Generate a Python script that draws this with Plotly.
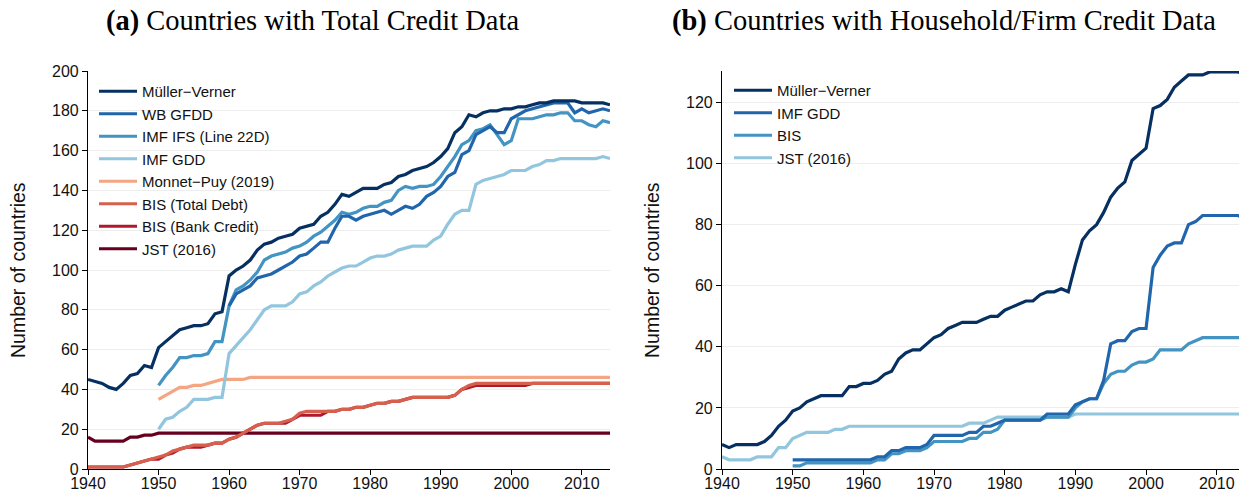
import plotly.graph_objects as go

# ---------------- Data ----------------
years_all = list(range(1940, 2015))
years_1950 = list(range(1950, 2015))
years_1960 = list(range(1960, 2015))

# Panel (a): Countries with Total Credit Data
a_muller_verner = [
    45, 44, 43, 41, 40, 43, 47, 48, 52, 51,
    61, 64, 67, 70, 71, 72, 72, 73, 78, 79,
    97, 100, 102, 105, 110, 113, 114, 116, 117, 118,
    121, 122, 123, 127, 129, 133, 138, 137, 139, 141,
    141, 141, 143, 144, 147, 148, 150, 151, 152, 154,
    157, 161, 169, 172, 178, 177, 179, 180, 180, 181,
    181, 182, 182, 183, 184, 184, 185, 185, 185, 185,
    184, 184, 184, 184, 183]
a_wb_gfdd = [  # from 1960
    82, 88, 90, 92, 96, 97, 98, 100, 102, 104,
    107, 108, 111, 114, 114, 121, 127, 127, 125, 127,
    128, 129, 130, 128, 130, 132, 131, 133, 137, 139,
    142, 147, 149, 158, 160, 168, 170, 172, 169, 169,
    176, 178, 180, 181, 182, 183, 184, 184, 184, 179,
    181, 179, 180, 181, 180]
a_imf_ifs = [  # from 1950
    42, 47, 51, 56, 56, 57, 57, 58, 64, 64,
    82, 90, 92, 95, 99, 105, 107, 108, 109, 111,
    112, 114, 117, 119, 122, 125, 129, 128, 129, 131,
    132, 132, 134, 135, 140, 142, 141, 142, 142, 143,
    147, 152, 157, 163, 165, 170, 171, 173, 168, 163,
    165, 176, 176, 176, 177, 178, 178, 179, 179, 175,
    175, 173, 172, 175, 174]
a_imf_gdd = [  # from 1950
    20, 25, 26, 29, 31, 35, 35, 35, 36, 36,
    58, 62, 66, 70, 75, 80, 82, 82, 82, 84,
    88, 89, 92, 94, 97, 99, 101, 102, 102, 104,
    106, 107, 107, 108, 110, 111, 112, 112, 112, 115,
    117, 123, 128, 130, 130, 143, 145, 146, 147, 148,
    150, 150, 150, 152, 153, 155, 155, 156, 156, 156,
    156, 156, 156, 157, 156]
a_monnet_puy = [  # from 1950
    35, 37, 39, 41, 41, 42, 42, 43, 44, 45,
    45, 45, 45, 46, 46, 46, 46, 46, 46, 46,
    46, 46, 46, 46, 46, 46, 46, 46, 46, 46,
    46, 46, 46, 46, 46, 46, 46, 46, 46, 46,
    46, 46, 46, 46, 46, 46, 46, 46, 46, 46,
    46, 46, 46, 46, 46, 46, 46, 46, 46, 46,
    46, 46, 46, 46, 46]
a_bis_total = [
    1, 1, 1, 1, 1, 1, 2, 3, 4, 5,
    6, 7, 9, 10, 11, 12, 12, 12, 13, 13,
    15, 16, 18, 20, 22, 23, 23, 23, 24, 25,
    28, 29, 29, 29, 29, 29, 30, 30, 31, 31,
    32, 33, 33, 34, 34, 35, 36, 36, 36, 36,
    36, 36, 37, 40, 42, 43, 43, 43, 43, 43,
    43, 43, 43, 43, 43, 43, 43, 43, 43, 43,
    43, 43, 43, 43, 43]
a_bis_bank = [
    1, 1, 1, 1, 1, 1, 2, 3, 4, 5,
    5, 7, 8, 10, 11, 11, 11, 12, 13, 13,
    15, 16, 18, 20, 22, 23, 23, 23, 23, 25,
    27, 27, 27, 27, 29, 29, 30, 30, 31, 31,
    32, 33, 33, 34, 34, 35, 36, 36, 36, 36,
    36, 36, 37, 40, 41, 42, 42, 42, 42, 42,
    42, 42, 42, 43, 43, 43, 43, 43, 43, 43,
    43, 43, 43, 43, 43]
a_jst = [16, 14, 14, 14, 14, 14, 16, 16, 17, 17] + [18] * 65

# Panel (b): Countries with Household/Firm Credit Data
b_muller_verner = [
    8, 7, 8, 8, 8, 8, 9, 11, 14, 16,
    19, 20, 22, 23, 24, 24, 24, 24, 27, 27,
    28, 28, 29, 31, 32, 36, 38, 39, 39, 41,
    43, 44, 46, 47, 48, 48, 48, 49, 50, 50,
    52, 53, 54, 55, 55, 57, 58, 58, 59, 58,
    67, 75, 78, 80, 84, 89, 92, 94, 101, 103,
    105, 118, 119, 121, 125, 127, 129, 129, 129, 130,
    130, 130, 130, 130, 129]
b_imf_gdd = [  # from 1950
    3, 3, 3, 3, 3, 3, 3, 3, 3, 3,
    3, 3, 4, 4, 6, 6, 7, 7, 7, 8,
    11, 11, 11, 11, 11, 12, 12, 14, 14, 15,
    16, 16, 16, 16, 16, 16, 18, 18, 18, 18,
    21, 22, 23, 23, 29, 41, 42, 42, 45, 46,
    46, 66, 70, 73, 74, 74, 80, 81, 83, 83,
    83, 83, 83, 83, 82]
b_bis = [  # from 1950
    1, 1, 2, 2, 2, 2, 2, 2, 2, 2,
    2, 2, 3, 3, 5, 5, 6, 6, 6, 7,
    9, 9, 9, 9, 9, 10, 10, 12, 12, 13,
    16, 16, 16, 16, 16, 16, 17, 17, 17, 17,
    20, 22, 23, 23, 28, 31, 32, 32, 34, 35,
    35, 36, 39, 39, 39, 39, 41, 42, 43, 43,
    43, 43, 43, 43, 43]
b_jst = [
    4, 3, 3, 3, 3, 4, 4, 4, 7, 7,
    10, 11, 12, 12, 12, 12, 13, 13, 14, 14,
    14, 14, 14, 14, 14, 14, 14, 14, 14, 14,
    14, 14, 14, 14, 14, 15, 15, 15, 16, 17,
    17, 17, 17, 17, 17, 17, 17, 17, 17, 17] + [18] * 25

x_ticks = [1940, 1950, 1960, 1970, 1980, 1990, 2000, 2010]
a_y_ticks = [0, 20, 40, 60, 80, 100, 120, 140, 160, 180, 200]
b_y_ticks = [0, 20, 40, 60, 80, 100, 120]

# ---------------- Styles ----------------
C_DARK = "#053061"
C_MID = "#2166ac"
C_BLUE = "#4393c3"
C_LIGHT = "#92c5de"
C_SALMON = "#f4a582"
C_ORANGE = "#d6604d"
C_RED = "#b2182b"
C_MAROON = "#67001f"
LW = 3.2

a_series = [
    ("Müller\u2212Verner", years_all, a_muller_verner, C_DARK),
    ("WB GFDD", years_1960, a_wb_gfdd, C_MID),
    ("IMF IFS (Line 22D)", years_1950, a_imf_ifs, C_BLUE),
    ("IMF GDD", years_1950, a_imf_gdd, C_LIGHT),
    ("Monnet\u2212Puy (2019)", years_1950, a_monnet_puy, C_SALMON),
    ("BIS (Total Debt)", years_all, a_bis_total, C_ORANGE),
    ("BIS (Bank Credit)", years_all, a_bis_bank, C_RED),
    ("JST (2016)", years_all, a_jst, C_MAROON),
]
b_series = [
    ("Müller\u2212Verner", years_all, b_muller_verner, C_DARK),
    ("IMF GDD", years_1950, b_imf_gdd, C_MID),
    ("BIS", years_1950, b_bis, C_BLUE),
    ("JST (2016)", years_all, b_jst, C_LIGHT),
]

fig = go.Figure()

for name, xs, ys, col in reversed(a_series):
    fig.add_trace(go.Scatter(x=xs, y=ys, name=name, mode="lines",
                             line=dict(color=col, width=LW),
                             xaxis="x", yaxis="y", legend="legend"))
for name, xs, ys, col in reversed(b_series):
    fig.add_trace(go.Scatter(x=xs, y=ys, name=name, mode="lines",
                             line=dict(color=col, width=LW),
                             xaxis="x2", yaxis="y2", legend="legend2"))

# The page body has an 8px default margin: the figure is drawn offset by it.
OFF = 8
W, H = 1247 - OFF, 495 - OFF

# target geometry in screenshot pixels
PLOT_L, PLOT_R, PLOT_T, PLOT_B = 88, 1245, 71, 469
ML = PLOT_L - OFF
MR = W - (PLOT_R - OFF)
MT = PLOT_T - OFF
MB = H - (PLOT_B - OFF)
PW = W - ML - MR
PH = H - MT - MB

def fx(p):  # screenshot pixel x -> paper fraction
    return (p - OFF - ML) / PW

def fy(p):  # screenshot pixel y (from top) -> paper fraction
    return (H - MB - (p - OFF)) / PH

SANS = "Liberation Sans, Arial, sans-serif"
AX_FONT = dict(family=SANS, size=16, color="#111111")

axis_common = dict(
    showline=True, linecolor="black", linewidth=1.2,
    ticks="outside", ticklen=5, tickwidth=1.2, tickcolor="black",
    tickfont=AX_FONT, zeroline=False, automargin=False,
)

LEG_FONT = dict(family=SANS, size=15, color="#111111")

fig.update_layout(
    width=W, height=H,
    margin=dict(l=ML, r=MR, t=MT, b=MB, pad=0, autoexpand=False),
    paper_bgcolor="white", plot_bgcolor="white",
    xaxis=dict(domain=[fx(88), fx(610)], range=[1940, 2014],
               tickvals=x_ticks, showgrid=False, anchor="y",
               ticklabelstandoff=-5, **axis_common),
    yaxis=dict(domain=[0, 1], range=[0, 200],
               tickvals=a_y_ticks, showgrid=True, gridcolor="#ededed", gridwidth=1,
               anchor="x", **axis_common),
    xaxis2=dict(domain=[fx(722), fx(1245)], range=[1940, 2014],
                tickvals=x_ticks, showgrid=False, anchor="y2",
                ticklabelstandoff=-5, **axis_common),
    yaxis2=dict(domain=[0, 1], range=[0, 130.3],
                tickvals=b_y_ticks, showgrid=True, gridcolor="#ededed", gridwidth=1,
                anchor="x2", **axis_common),
    legend=dict(x=fx(94), y=fy(75), xanchor="left", yanchor="top",
                traceorder="reversed", bgcolor="rgba(0,0,0,0)",
                font=LEG_FONT, itemwidth=38, tracegroupgap=0),
    legend2=dict(x=fx(729), y=fy(74), xanchor="left", yanchor="top",
                 traceorder="reversed", bgcolor="rgba(0,0,0,0)",
                 font=LEG_FONT, itemwidth=38, tracegroupgap=0),
    showlegend=True,
)

TITLE_FONT = dict(family="Liberation Serif, Times New Roman, serif", size=28.5, color="black")
LABEL_FONT = dict(family=SANS, size=19.5, color="#111111")

fig.add_annotation(text="<b>(a)</b> Countries with Total Credit Data",
                   xref="paper", yref="paper", x=fx(312), y=fy(21),
                   xanchor="center", yanchor="middle", showarrow=False, font=TITLE_FONT)
fig.add_annotation(text="<b>(b)</b> Countries with Household/Firm Credit Data",
                   xref="paper", yref="paper", x=fx(944), y=fy(21),
                   xanchor="center", yanchor="middle", showarrow=False, font=TITLE_FONT)
fig.add_annotation(text="Number of countries", textangle=-90,
                   xref="paper", yref="paper", x=fx(18), y=fy(270),
                   xanchor="center", yanchor="middle", showarrow=False, font=LABEL_FONT)
fig.add_annotation(text="Number of countries", textangle=-90,
                   xref="paper", yref="paper", x=fx(652), y=fy(270),
                   xanchor="center", yanchor="middle", showarrow=False, font=LABEL_FONT)

fig.write_html("out.html")
